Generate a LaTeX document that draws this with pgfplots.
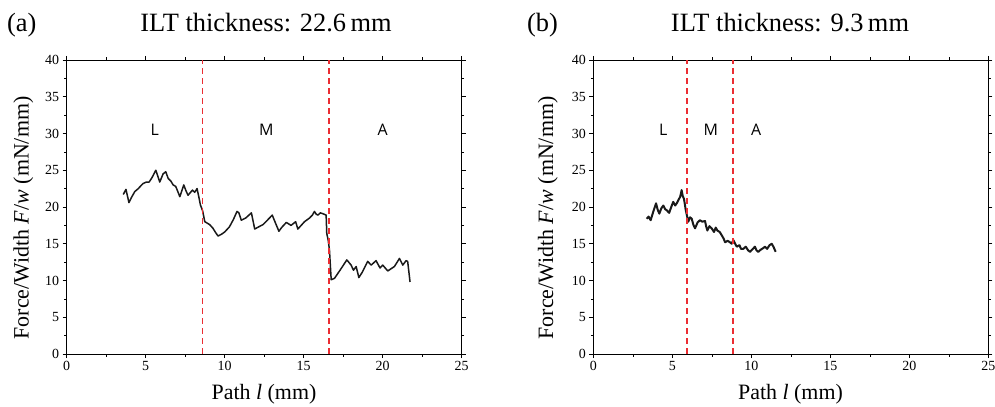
\documentclass[border=0pt]{standalone}
\usepackage{pgfplots}
\pgfplotsset{compat=1.18}
\usepackage{fontspec}
\setmainfont{Liberation Serif}
\newfontfamily\regfont{Open Sans}
\definecolor{dashred}{RGB}{235,45,50}
\definecolor{curve}{RGB}{25,25,25}

\pgfplotstableread{
x y
3.58 21.7
3.75 22.4
3.94 20.6
4.10 21.3
4.31 22.1
4.53 22.5
4.70 22.9
4.84 23.2
5.05 23.4
5.22 23.4
5.40 24.0
5.64 25.0
5.75 24.3
5.89 23.4
6.10 24.5
6.27 24.8
6.42 23.9
6.60 23.5
6.74 23.0
6.90 22.8
7.05 22.0
7.16 21.4
7.41 23.0
7.55 22.2
7.68 21.6
7.96 22.3
8.10 22.0
8.25 22.5
8.38 21.2
8.46 20.3
8.60 19.5
8.74 18.0
8.90 17.8
9.05 17.6
9.26 17.1
9.40 16.6
9.58 16.05
9.80 16.3
10.00 16.6
10.30 17.3
10.55 18.3
10.78 19.4
10.90 19.2
11.05 18.2
11.33 18.5
11.69 19.2
11.90 17.0
12.15 17.3
12.42 17.6
12.70 18.2
13.01 18.9
13.16 18.1
13.43 16.7
13.60 17.2
13.90 17.9
14.20 17.5
14.49 18.0
14.63 17.0
15.05 18.0
15.37 18.5
15.55 18.9
15.68 19.4
15.80 19.0
15.90 18.9
16.05 19.2
16.20 19.1
16.42 18.9
16.46 16.4
16.55 15.5
16.63 14.15
16.74 10.1
16.95 10.3
17.30 11.4
17.73 12.8
18.00 12.1
18.15 11.4
18.32 11.9
18.49 10.4
18.70 11.1
19.05 12.6
19.27 12.1
19.58 12.7
19.83 11.7
20.00 12.1
20.32 11.3
20.74 11.9
21.06 13.0
21.27 12.1
21.48 12.7
21.58 12.6
21.73 9.8
}\dataA

\pgfplotstableread{
x y
3.38 18.4
3.50 18.7
3.63 18.2
3.80 19.4
3.97 20.5
4.08 19.6
4.18 19.1
4.30 19.8
4.43 20.2
4.55 19.7
4.65 19.55
4.80 19.2
4.95 20.1
5.06 20.7
5.18 20.2
5.28 20.5
5.40 21.0
5.50 21.4
5.59 22.3
5.66 21.5
5.74 21.1
5.85 19.6
6.01 18.0
6.12 18.6
6.23 18.4
6.33 17.6
6.44 17.1
6.60 17.9
6.75 18.2
6.90 18.0
7.07 18.1
7.15 17.3
7.22 16.8
7.35 17.4
7.49 17.1
7.64 16.6
7.75 17.2
7.85 16.8
8.00 16.6
8.13 16.15
8.25 15.7
8.34 15.2
8.50 15.4
8.65 15.2
8.76 15.0
8.86 15.5
9.00 14.9
9.08 14.6
9.25 14.8
9.35 14.3
9.49 14.3
9.65 14.6
9.80 14.1
9.92 13.9
10.05 14.2
10.23 14.6
10.33 14.1
10.44 13.9
10.60 14.2
10.75 14.4
10.87 14.6
11.00 14.3
11.15 14.8
11.29 15.0
11.40 14.6
11.54 13.9
}\dataB

\pgfplotsset{
  panel/.style={
    scale only axis,
    width=395bp, height=294bp,
    xmin=0, xmax=25, ymin=0, ymax=40,
    xtick={0,5,...,25}, ytick={0,5,...,40},
    minor x tick num=1, minor y tick num=1,
    tick align=outside,
    major tick length=4bp, minor tick length=2.5bp,
    axis line style={line width=0.9bp},
    every tick/.style={black, line width=0.6bp},
    tick label style={font=\fontsize{14}{16}\selectfont},
    /pgf/number format/assume math mode=true,
    clip=false,
  },
  curvestyle/.style={curve, line width=1.5bp, line join=round},
  divline/.style={dashred, line width=1.7bp, dash pattern=on 6bp off 4bp},
}

\begin{document}
\begin{tikzpicture}
\path[use as bounding box] (0,0) rectangle (995bp,407bp);

% Panel (a)
\begin{axis}[panel, at={(66.7bp,53bp)}, anchor=south west]
  \addplot[curvestyle] table[x=x,y=y] {\dataA};
  \addplot[divline] coordinates {(8.59,0) (8.59,40)};
  \addplot[divline] coordinates {(16.59,0) (16.59,40)};
  \node[font=\regfont\fontsize{16}{18}\selectfont] at (axis cs:5.58,30.5) {L};
  \node[font=\regfont\fontsize{16}{18}\selectfont] at (axis cs:12.63,30.5) {M};
  \node[font=\regfont\fontsize{16}{18}\selectfont] at (axis cs:20.0,30.5) {A};
\end{axis}

% Panel (b)
\begin{axis}[panel, at={(593.3bp,53bp)}, anchor=south west]
  \addplot[curvestyle, line width=2bp] table[x=x,y=y] {\dataB};
  \addplot[divline] coordinates {(5.91,0) (5.91,40)};
  \addplot[divline] coordinates {(8.82,0) (8.82,40)};
  \node[font=\regfont\fontsize{16}{18}\selectfont] at (axis cs:4.43,30.5) {L};
  \node[font=\regfont\fontsize{16}{18}\selectfont] at (axis cs:7.43,30.5) {M};
  \node[font=\regfont\fontsize{16}{18}\selectfont] at (axis cs:10.3,30.5) {A};
\end{axis}

% Titles
\node[anchor=base west, inner sep=0pt, font=\fontsize{26.5}{30}\selectfont] at (7bp,375bp) {(a)};
\node[anchor=base, inner sep=0pt, font=\fontsize{26.5}{30}\selectfont] at (266bp,375bp) {ILT thickness: 22.6\,mm};
\node[anchor=base west, inner sep=0pt, font=\fontsize{26.5}{30}\selectfont] at (527bp,375bp) {(b)};
\node[anchor=base, inner sep=0pt, font=\fontsize{26.5}{30}\selectfont] at (790bp,375bp) {ILT thickness: 9.3\,mm};

% Axis labels
\node[anchor=base, inner sep=0pt, font=\fontsize{22}{26}\selectfont] at (264bp,8bp) {Path \textit{l} (mm)};
\node[anchor=base, inner sep=0pt, font=\fontsize{22}{26}\selectfont] at (790.5bp,8bp) {Path \textit{l} (mm)};
\node[anchor=base, rotate=90, inner sep=0pt, font=\fontsize{22}{26}\selectfont] at (28.5bp,189bp) {Force/Width \textit{F}/\textit{w} (mN/mm)};
\node[anchor=base, rotate=90, inner sep=0pt, font=\fontsize{22}{26}\selectfont] at (553bp,189bp) {Force/Width \textit{F}/\textit{w} (mN/mm)};
\end{tikzpicture}
\end{document}
